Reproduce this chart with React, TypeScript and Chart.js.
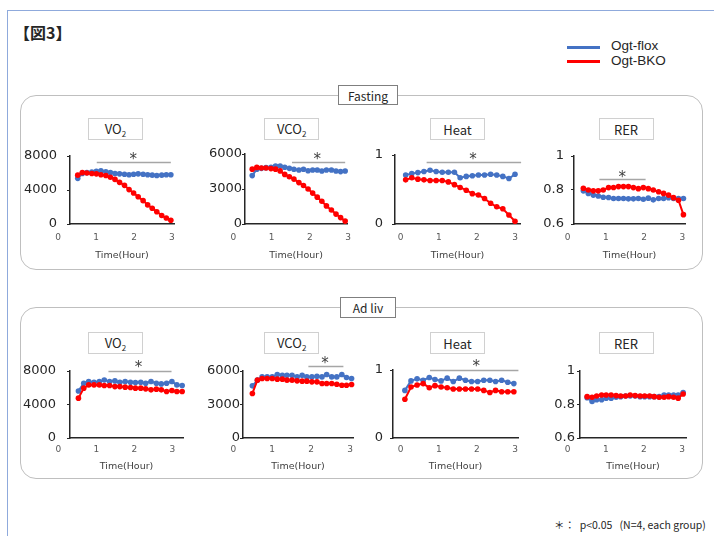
import React, { useEffect, useRef } from "react";
import { Chart, registerables } from "chart.js";

Chart.register(...registerables);

// ---------------- DATA ----------------
const SERIES_NAMES = ["Ogt-BKO", "Ogt-flox"];
const X_TICKS = [0, 1, 2, 3];
const VO2_TICKS = [0, 4000, 8000];
const VCO2_TICKS = [0, 3000, 6000];
const HEAT_TICKS = [0, 1];
const RER_TICKS = [0.6, 0.8, 1];

// Fasting – VO2
const fastVO2Time = [0.52, 0.64, 0.76, 0.89, 1.01, 1.13, 1.26, 1.38, 1.5, 1.62, 1.75, 1.87, 1.99, 2.11, 2.24, 2.36, 2.48, 2.6, 2.73, 2.85, 2.97];
const fastVO2Flox = [5370, 5950, 6050, 6100, 6200, 6250, 6150, 6050, 5950, 5900, 5850, 5800, 5850, 5900, 5850, 5800, 5750, 5700, 5750, 5800, 5800];
const fastVO2Bko = [5750, 6050, 6000, 5950, 5900, 5800, 5700, 5500, 5250, 4900, 4550, 4050, 3650, 3200, 2750, 2250, 1850, 1450, 1000, 700, 450];
const fastVO2Sig = [1.02, 2.97, 7250, 1.98, 8050];

// Fasting – VCO2
const fastVCO2Time = [0.49, 0.61, 0.73, 0.85, 0.98, 1.1, 1.22, 1.34, 1.46, 1.58, 1.71, 1.83, 1.95, 2.07, 2.19, 2.31, 2.43, 2.56, 2.68, 2.8, 2.92];
const fastVCO2Flox = [4150, 4700, 4770, 4830, 4860, 4970, 4970, 4860, 4770, 4690, 4630, 4690, 4570, 4630, 4630, 4540, 4630, 4630, 4540, 4490, 4540];
const fastVCO2Bko = [4700, 4850, 4800, 4800, 4750, 4700, 4550, 4250, 4050, 3850, 3550, 3300, 3000, 2650, 2300, 1950, 1550, 1200, 850, 550, 250];
const fastVCO2Sig = [1.53, 2.92, 5300, 2.19, 5880];

// Fasting – Heat
const fastHeatTime = [0.13, 0.29, 0.45, 0.61, 0.77, 0.93, 1.09, 1.25, 1.41, 1.56, 1.72, 1.88, 2.04, 2.2, 2.36, 2.52, 2.68, 2.84, 3.0];
const fastHeatFlox = [0.71, 0.73, 0.745, 0.76, 0.78, 0.76, 0.75, 0.75, 0.75, 0.67, 0.69, 0.7, 0.71, 0.71, 0.72, 0.71, 0.69, 0.66, 0.72];
const fastHeatBko = [0.64, 0.67, 0.65, 0.64, 0.63, 0.63, 0.63, 0.61, 0.57, 0.53, 0.49, 0.44, 0.42, 0.37, 0.3, 0.25, 0.22, 0.13, 0.04];
const fastHeatSig = [0.68, 3.16, 0.894, 1.9, 0.99];

// Fasting – RER
const fastRERTime = [0.41, 0.54, 0.67, 0.8, 0.93, 1.07, 1.2, 1.33, 1.46, 1.59, 1.72, 1.85, 1.98, 2.11, 2.24, 2.38, 2.51, 2.64, 2.77, 2.9, 3.03];
const fastRERFlox = [0.795, 0.78, 0.77, 0.765, 0.757, 0.756, 0.75, 0.75, 0.75, 0.748, 0.748, 0.75, 0.746, 0.752, 0.742, 0.75, 0.75, 0.755, 0.75, 0.75, 0.75];
const fastRERBko = [0.81, 0.8, 0.795, 0.795, 0.8, 0.814, 0.815, 0.82, 0.82, 0.82, 0.814, 0.808, 0.814, 0.808, 0.8, 0.79, 0.78, 0.77, 0.755, 0.74, 0.655];
const fastRERSig = [0.83, 2.04, 0.862, 1.43, 0.9];

// Ad lib – VO2
const adVO2Time = [0.53, 0.67, 0.8, 0.94, 1.08, 1.21, 1.35, 1.49, 1.62, 1.76, 1.9, 2.03, 2.17, 2.3, 2.44, 2.58, 2.71, 2.85, 2.99, 3.12, 3.26];
const adVO2Flox = [5620, 6540, 6740, 6660, 6740, 6930, 6740, 6820, 6660, 6740, 6660, 6620, 6660, 6540, 6740, 6540, 6460, 6540, 6740, 6340, 6260];
const adVO2Bko = [4760, 5950, 6340, 6340, 6340, 6260, 6260, 6140, 6140, 6070, 6030, 5950, 5950, 5870, 5750, 5830, 5750, 5550, 5670, 5550, 5550];
const adVO2Sig = [1.32, 2.98, 8000, 2.11, 8900];

// Ad lib – VCO2
const adVCO2Time = [0.49, 0.62, 0.74, 0.87, 1.0, 1.13, 1.26, 1.38, 1.51, 1.64, 1.77, 1.89, 2.02, 2.15, 2.28, 2.4, 2.53, 2.66, 2.79, 2.91, 3.04];
const adVCO2Flox = [4670, 5180, 5470, 5470, 5470, 5680, 5620, 5620, 5620, 5470, 5620, 5470, 5470, 5530, 5470, 5680, 5470, 5470, 5680, 5420, 5330];
const adVCO2Bko = [3990, 5180, 5330, 5330, 5330, 5270, 5270, 5180, 5180, 5120, 5090, 5090, 5030, 5030, 4880, 4880, 4880, 4820, 4730, 4730, 4790];
const adVCO2Sig = [1.93, 2.83, 6440, 2.36, 7040];

// Ad lib – Heat
const adHeatTime = [0.11, 0.27, 0.43, 0.59, 0.75, 0.9, 1.06, 1.22, 1.38, 1.54, 1.7, 1.86, 2.02, 2.18, 2.34, 2.49, 2.65, 2.81, 2.97];
const adHeatFlox = [0.7, 0.84, 0.87, 0.85, 0.89, 0.86, 0.84, 0.88, 0.83, 0.88, 0.85, 0.83, 0.83, 0.85, 0.85, 0.83, 0.85, 0.82, 0.8];
const adHeatBko = [0.57, 0.75, 0.78, 0.8, 0.74, 0.77, 0.75, 0.74, 0.72, 0.72, 0.72, 0.72, 0.72, 0.7, 0.67, 0.7, 0.68, 0.68, 0.68];
const adHeatSig = [0.77, 3.09, 1.0, 1.98, 1.11];

// Ad lib – RER
const adRERTime = [0.51, 0.64, 0.76, 0.89, 1.01, 1.14, 1.27, 1.39, 1.52, 1.64, 1.77, 1.9, 2.02, 2.15, 2.27, 2.4, 2.53, 2.65, 2.78, 2.9, 3.03];
const adRERFlox = [0.841, 0.818, 0.828, 0.828, 0.838, 0.838, 0.843, 0.847, 0.851, 0.851, 0.851, 0.847, 0.847, 0.847, 0.847, 0.847, 0.857, 0.857, 0.857, 0.857, 0.871];
const adRERBko = [0.847, 0.843, 0.851, 0.857, 0.857, 0.857, 0.853, 0.851, 0.851, 0.857, 0.853, 0.851, 0.851, 0.851, 0.847, 0.843, 0.843, 0.847, 0.843, 0.838, 0.863];

// ---------------- LAYOUT ----------------
const BLUE = "#4472C4";
const RED = "#FF0000";
const YW = 50;
const PAD_T = 24;
const PAD_R = 10;

type Spec = {
  time: number[]; flox: number[]; bko: number[]; yTicks: number[]; sig: number[] | null;
  aL: number; aR: number; yT: number; yB: number; xMin: number; xMax: number; yGap: number; row: "f" | "a";
};

const SPECS: Spec[] = [
  { time: fastVO2Time, flox: fastVO2Flox, bko: fastVO2Bko, yTicks: VO2_TICKS, sig: fastVO2Sig, aL: 70, aR: 174, yT: 156, yB: 224, xMin: 0.316, xMax: 3.053, yGap: 13, row: "f" },
  { time: fastVCO2Time, flox: fastVCO2Flox, bko: fastVCO2Bko, yTicks: VCO2_TICKS, sig: fastVCO2Sig, aL: 245, aR: 349, yT: 154, yB: 224, xMin: 0.301, xMax: 2.974, yGap: 3, row: "f" },
  { time: fastHeatTime, flox: fastHeatFlox, bko: fastHeatBko, yTicks: HEAT_TICKS, sig: fastHeatSig, aL: 395, aR: 520, yT: 155, yB: 224, xMin: -0.15, xMax: 3.131, yGap: 12, row: "f" },
  { time: fastRERTime, flox: fastRERFlox, bko: fastRERBko, yTicks: RER_TICKS, sig: fastRERSig, aL: 574, aR: 685, yT: 156, yB: 224, xMin: 0.165, xMax: 3.071, yGap: 10, row: "f" },
  { time: adVO2Time, flox: adVO2Flox, bko: adVO2Bko, yTicks: VO2_TICKS, sig: adVO2Sig, aL: 70, aR: 183, yT: 371, yB: 438, xMin: 0.308, xMax: 3.282, yGap: 14, row: "a" },
  { time: adVCO2Time, flox: adVCO2Flox, bko: adVCO2Bko, yTicks: VCO2_TICKS, sig: adVCO2Sig, aL: 243, aR: 353, yT: 371, yB: 438, xMin: 0.249, xMax: 3.077, yGap: 3, row: "a" },
  { time: adHeatTime, flox: adHeatFlox, bko: adHeatBko, yTicks: HEAT_TICKS, sig: adHeatSig, aL: 393, aR: 518, yT: 370, yB: 438, xMin: -0.202, xMax: 3.079, yGap: 10, row: "a" },
  { time: adRERTime, flox: adRERFlox, bko: adRERBko, yTicks: RER_TICKS, sig: null, aL: 580, aR: 686, yT: 371, yB: 438, xMin: 0.323, xMax: 3.105, yGap: 5, row: "a" },
];

const sigPlugin = {
  id: "sigMark",
  afterDatasetsDraw(chart: any, _args: any, opts: any) {
    const s = opts && opts.sig;
    if (!s) return;
    const xs = chart.scales.x;
    const ys = chart.scales.y;
    const ctx = chart.ctx;
    ctx.save();
    ctx.strokeStyle = "#a6a6a6";
    ctx.lineWidth = 1.3;
    const y = Math.round(ys.getPixelForValue(s[2])) + 0.5;
    ctx.beginPath();
    ctx.moveTo(xs.getPixelForValue(s[0]), y);
    ctx.lineTo(xs.getPixelForValue(s[1]), y);
    ctx.stroke();
    ctx.fillStyle = "#404040";
    ctx.font = "15px 'DejaVu Sans'";
    ctx.textAlign = "center";
    ctx.textBaseline = "alphabetic";
    ctx.fillText("*", xs.getPixelForValue(s[3]), ys.getPixelForValue(s[4]) + 8.5);
    ctx.restore();
  },
};

function fmt(v: number) {
  return String(Math.round(v * 10) / 10);
}

function MiniChart({ spec }: { spec: Spec }) {
  const ref = useRef<HTMLCanvasElement | null>(null);
  const xH = spec.row === "f" ? 37 : 34;
  const xPad = spec.row === "f" ? 8 : 6;
  const left = spec.aL - YW;
  const top = spec.yT - PAD_T;
  const width = spec.aR - spec.aL + YW + PAD_R;
  const height = spec.yB - spec.yT + PAD_T + xH;

  useEffect(() => {
    if (!ref.current) return;
    const mk = (vals: number[]) => spec.time.map((t, i) => ({ x: t, y: vals[i] }));
    const chart = new Chart(ref.current, {
      type: "line",
      data: {
        datasets: [
          { label: SERIES_NAMES[0], data: mk(spec.bko), borderColor: RED, backgroundColor: RED, pointBackgroundColor: RED, pointBorderColor: RED, borderWidth: 2, pointRadius: 2.8, pointBorderWidth: 0, tension: 0, clip: false as any },
          { label: SERIES_NAMES[1], data: mk(spec.flox), borderColor: BLUE, backgroundColor: BLUE, pointBackgroundColor: BLUE, pointBorderColor: BLUE, borderWidth: 2, pointRadius: 2.8, pointBorderWidth: 0, tension: 0, clip: false as any },
        ],
      },
      options: {
        animation: false,
        responsive: false,
        events: [],
        layout: { padding: { top: PAD_T, right: PAD_R, left: 0, bottom: 0 } },
        plugins: {
          legend: { display: false },
          tooltip: { enabled: false },
          sigMark: { sig: spec.sig },
        } as any,
        scales: {
          x: {
            type: "linear",
            min: spec.xMin,
            max: spec.xMax,
            afterBuildTicks: (s: any) => { s.ticks = X_TICKS.map((v) => ({ value: v })); },
            afterFit: (s: any) => { s.height = xH; },
            grid: { display: true, drawOnChartArea: false, drawTicks: false },
            border: { display: true, color: "#262626", width: 1.5 },
            ticks: { padding: xPad, color: "#595959", font: { size: 9, family: "'DejaVu Sans'" }, autoSkip: false, maxRotation: 0, callback: (v: any) => fmt(Number(v)) },
            title: { display: true, text: "Time(Hour)", color: "#404040", padding: 0, font: { size: 9.5, family: "'DejaVu Sans'" } },
          },
          y: {
            min: spec.yTicks[0],
            max: spec.yTicks[spec.yTicks.length - 1],
            afterBuildTicks: (s: any) => { s.ticks = spec.yTicks.map((v) => ({ value: v })); },
            afterFit: (s: any) => { s.width = YW; },
            grid: { display: true, drawOnChartArea: false, drawTicks: true, tickLength: 3, color: "#262626" },
            border: { display: true, color: "#262626", width: 1.5 },
            ticks: { padding: Math.max(0, spec.yGap - 3), color: "#262626", font: { size: 13, family: "'DejaVu Sans'" }, callback: (v: any) => fmt(Number(v)) },
          },
        },
      } as any,
      plugins: [sigPlugin],
    });
    return () => chart.destroy();
  }, []);

  return (
    <canvas
      ref={ref}
      width={width}
      height={height}
      style={{ position: "absolute", left, top, width, height, display: "block" }}
    />
  );
}

const BOX_LABELS = [
  { main: "VO", sub: "2", cx: 115.5 },
  { main: "VCO", sub: "2", cx: 291.7 },
  { main: "Heat", sub: "", cx: 457.5 },
  { main: "RER", sub: "", cx: 626 },
];

function TitleBox({ main, sub, cx, top }: { main: string; sub: string; cx: number; top: number }) {
  return (
    <div
      style={{
        position: "absolute", left: cx - 27.5, top, width: 55, height: 22, boxSizing: "border-box",
        border: "1px solid #d0d0d0", background: "#fff", display: "flex", alignItems: "center", justifyContent: "center",
        fontFamily: "'Noto Sans CJK JP', 'Noto Sans', sans-serif", fontSize: 13, color: "#262626",
      }}
    >
      <span>
        {main}
        {sub ? <sub style={{ fontSize: 8, verticalAlign: "-3px" }}>{sub}</sub> : null}
      </span>
    </div>
  );
}

export default function App() {
  return (
    <div style={{ position: "absolute", left: 0, top: 0, width: 714, height: 536, background: "#fff", overflow: "hidden" }}>
      <div style={{ position: "absolute", left: 7, top: 10, width: 720, height: 540, borderTop: "1px solid #8faadc", borderLeft: "1px solid #8faadc" }} />
      <div style={{ position: "absolute", left: 14, top: 20, fontFamily: "'Noto Sans CJK JP', sans-serif", fontSize: 16, fontWeight: 700, color: "#262626", whiteSpace: "nowrap" }}>
        【図3】
      </div>
      {/* legend */}
      <div style={{ position: "absolute", left: 567, top: 46, width: 33, height: 2.5, background: BLUE }} />
      <div style={{ position: "absolute", left: 567, top: 60, width: 33, height: 2.5, background: RED }} />
      <div style={{ position: "absolute", left: 611, top: 38, fontFamily: "'Liberation Sans', sans-serif", fontSize: 13.5, lineHeight: "15px", color: "#262626" }}>
        <div>Ogt-flox</div>
        <div>Ogt-BKO</div>
      </div>

      {/* frames */}
      <div style={{ position: "absolute", left: 20, top: 95, width: 683, height: 175, boxSizing: "border-box", border: "1.5px solid #bfbfbf", borderRadius: 16 }} />
      <div style={{ position: "absolute", left: 20, top: 307, width: 683, height: 172, boxSizing: "border-box", border: "1.5px solid #bfbfbf", borderRadius: 16 }} />
      <div style={{ position: "absolute", left: 338, top: 85, width: 60, height: 20, boxSizing: "border-box", border: "1px solid #7f7f7f", background: "#fff", display: "flex", alignItems: "center", justifyContent: "center", fontFamily: "'Noto Sans CJK JP', sans-serif", fontSize: 12, color: "#262626" }}>
        Fasting
      </div>
      <div style={{ position: "absolute", left: 340, top: 297, width: 56, height: 21, boxSizing: "border-box", border: "1px solid #7f7f7f", background: "#fff", display: "flex", alignItems: "center", justifyContent: "center", fontFamily: "'Noto Sans CJK JP', sans-serif", fontSize: 12, color: "#262626" }}>
        Ad liv
      </div>

      {BOX_LABELS.map((b, i) => <TitleBox key={"f" + i} {...b} top={118} />)}
      {BOX_LABELS.map((b, i) => <TitleBox key={"a" + i} {...b} top={332} />)}

      {SPECS.map((s, i) => <MiniChart key={i} spec={s} />)}

      <div style={{ position: "absolute", left: 554, top: 517, fontFamily: "'Noto Sans CJK JP', sans-serif", fontSize: 10.5, color: "#262626", whiteSpace: "pre" }}>
        {"＊：  p<0.05   (N=4, each group)"}
      </div>
    </div>
  );
}
